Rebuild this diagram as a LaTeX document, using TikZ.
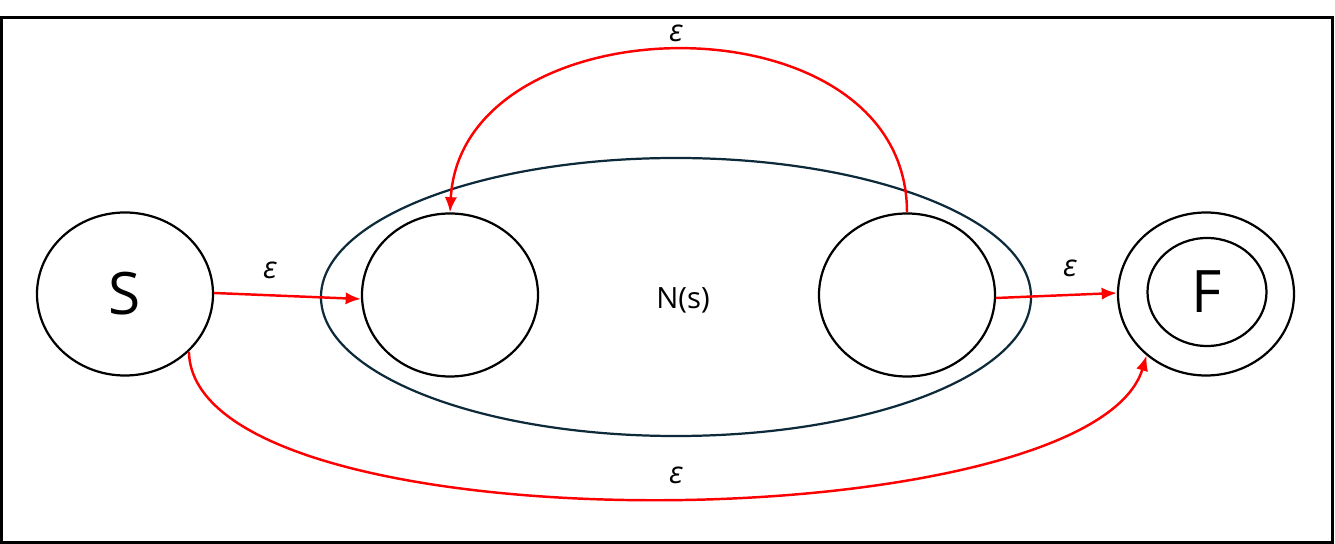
\documentclass[tikz,border=0pt]{standalone}
\usepackage{fontspec}
\setmainfont{Open Sans}
\usetikzlibrary{shapes.geometric,arrows.meta}
\definecolor{ringcol}{HTML}{0D2A3A}
\definecolor{arrred}{HTML}{FF0000}
\tikzset{
  state/.style={ellipse, draw=black, line width=1.9pt, inner sep=0pt,
    minimum width=5.28cm, minimum height=4.89cm},
  bigtxt/.style={font=\fontsize{50}{54}\selectfont},
  eps/.style={font=\fontsize{26}{28}\selectfont\itshape, inner sep=0pt},
  arr/.style={draw=arrred, line width=2.1pt, -{Latex[length=13pt,width=10.5pt]}}
}
\begin{document}
\begin{tikzpicture}[x=0.03cm, y=-0.03cm]
\useasboundingbox (0,0) rectangle (1335,544);
\draw[line width=2.6pt] (1.5,17.5) rectangle (1332.5,542.5);
% big ellipse
\node[ellipse, draw=ringcol, line width=1.9pt, inner sep=0pt,
  minimum width=21.3cm, minimum height=8.34cm] (N) at (676,297) {};
\node[font=\fontsize{25}{28}\selectfont] (Nlab) at (683,300) {N(s)};
% states
\node[state, bigtxt] (S) at (125,294) {S};
\node[state] (A) at (450,295) {};
\node[state] (B) at (907,295) {};
\node[state] (F) at (1206,294) {};
\node[ellipse, draw=black, line width=1.9pt, inner sep=0pt,
  minimum width=3.57cm, minimum height=3.24cm, bigtxt] (Fi) at (1207,292) {F};
% arrows
\draw[arr] ([yshift=0.03cm]S.east) -- ([yshift=-0.12cm]A.west);
\draw[arr] ([yshift=-0.09cm]B.east) -- ([yshift=0.03cm]F.west);
\draw[arr] (B.north) .. controls +(0cm,6.6cm) and +(0.35cm,6.4cm) .. (A.north);
\draw[arr] (S.-42) .. controls +(0.1cm,-6.0cm) and +(-1.7cm,-5.6cm) .. (F.-134);
% labels
\node[eps] (e1) at (270,270) {ε};
\node[eps] (e2) at (1070,268) {ε};
\node[eps] (e3) at (676,33) {ε};
\node[eps] (e4) at (676,475) {ε};
\end{tikzpicture}
\end{document}
